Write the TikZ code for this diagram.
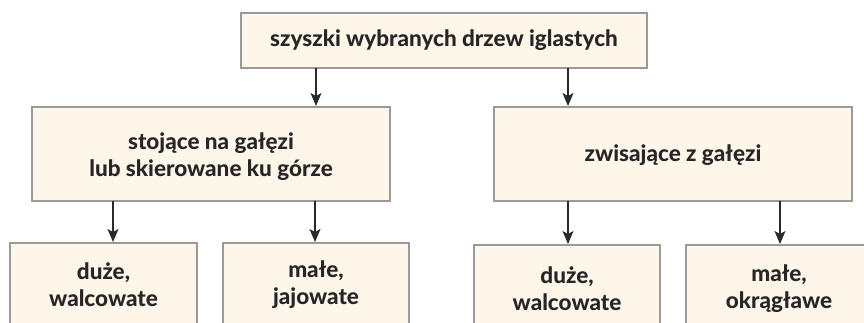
\documentclass[tikz,border=0pt]{standalone}
\usepackage{fontspec}
\setmainfont{Lato}[BoldFont={Lato Heavy}]
\usetikzlibrary{arrows.meta}
\definecolor{boxfill}{HTML}{FEF6E9}
\definecolor{boxline}{HTML}{9A9A9A}
\definecolor{arr}{HTML}{2A2A2A}
\tikzset{
  box/.style={draw=boxline, fill=boxfill, line width=1.6pt, rectangle},
  lbl/.style={font=\bfseries\fontsize{22.5}{27}\selectfont, align=center, text=black!85},
  conn/.style={draw=arr, line width=1.3pt, -{Stealth[length=13pt,width=11pt,inset=3pt]}}
}
\begin{document}
\begin{tikzpicture}[x=1pt,y=-1pt]
\clip (0,0) rectangle (864,322);
\useasboundingbox (0,0) rectangle (864,322);
% boxes
\path[box] (241,13) rectangle (647,68);
\path[box] (32,107) rectangle (390,201);
\path[box] (494,107) rectangle (852,201);
\path[box] (10,243) rectangle (197,340);
\path[box] (223,243) rectangle (409,340);
\path[box] (474,245) rectangle (660,340);
\path[box] (686,245) rectangle (872,340);
% labels
\node[lbl] (top) at (444,40.5) {szyszki wybranych drzew iglastych};
\node[lbl] (ml) at (211,157) {stojące na gałęzi\\lub skierowane ku górze};
\node[lbl] (mr) at (673,155) {zwisające z gałęzi};
\node[lbl] (b1) at (103.5,285) {duże,\\walcowate};
\node[lbl] (b2) at (316,285) {małe,\\jajowate};
\node[lbl] (b3) at (567,289) {duże,\\walcowate};
\node[lbl] (b4) at (779,289) {małe,\\okrągławe};
% anchor coordinates
\coordinate (t1) at (316,68); \coordinate (t1e) at (316,106);
\coordinate (t2) at (568,68); \coordinate (t2e) at (568,106);
\coordinate (l1) at (113,201); \coordinate (l1e) at (113,242);
\coordinate (l2) at (315,201); \coordinate (l2e) at (315,242);
\coordinate (r1) at (568,201); \coordinate (r1e) at (568,244);
\coordinate (r2) at (780,201); \coordinate (r2e) at (780,244);
\draw[conn] (t1) -- (t1e);
\draw[conn] (t2) -- (t2e);
\draw[conn] (l1) -- (l1e);
\draw[conn] (l2) -- (l2e);
\draw[conn] (r1) -- (r1e);
\draw[conn] (r2) -- (r2e);
\end{tikzpicture}
\end{document}
